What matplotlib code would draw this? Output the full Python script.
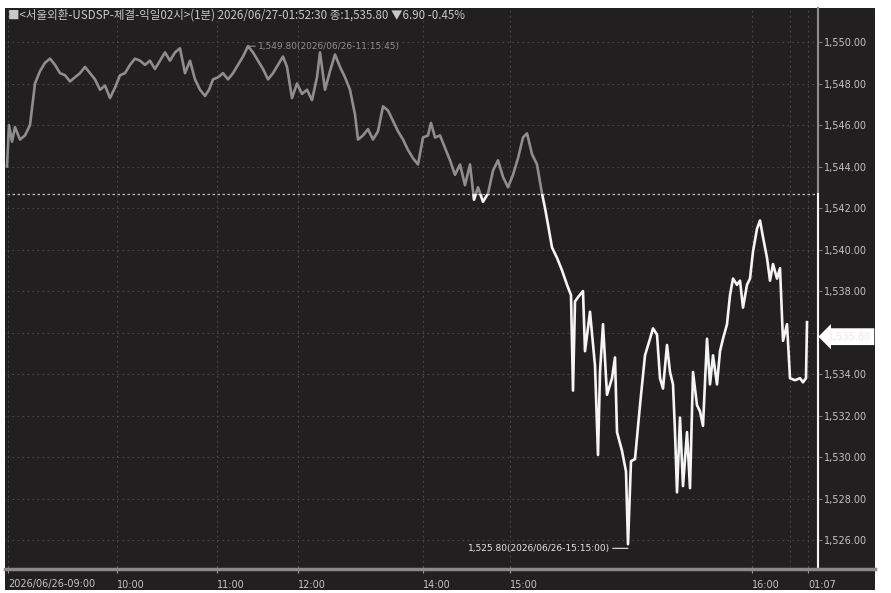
import matplotlib.pyplot as plt
import matplotlib.transforms as mtransforms
from matplotlib.patches import Rectangle
from matplotlib.lines import Line2D
from matplotlib.ticker import FuncFormatter

# 1분봉 (bar 번호, 가격)
bar_no = [-1, 1, 4, 7, 12, 17, 22, 27, 32, 37, 42, 47, 52, 57, 62, 67, 72, 77, 82, 87,
          92, 97, 102, 107, 112, 117, 122, 127, 132, 137, 142, 147, 152, 157, 162, 167, 172, 177, 182, 187,
          192, 197, 201, 205, 210, 215, 220, 225, 230, 235, 240, 245, 250, 255, 260, 265, 270, 275, 279, 284,
          289, 294, 299, 304, 309, 312, 317, 322, 327, 332, 337, 342, 347, 350, 355, 360, 365, 370, 375, 380,
          385, 390, 395, 400, 405, 410, 415, 420, 423, 427, 432, 437, 442, 447, 452, 457, 462, 466, 470, 475,
          480, 485, 490, 495, 500, 505, 510, 515, 519, 524, 529, 534, 537, 540, 544, 549, 554, 559, 563, 565,
          567, 570, 575, 577, 582, 587, 590, 592, 595, 599, 604, 607, 609, 614, 618, 620, 623, 627, 632, 637,
          642, 645, 649, 652, 655, 659, 662, 665, 667, 669, 672, 675, 679, 682, 685, 689, 692, 695, 699, 702,
          705, 709, 712, 715, 719, 722, 725, 729, 732, 735, 739, 742, 745, 749, 752, 755, 759, 762, 765, 769,
          772, 775, 779, 782, 787, 792, 795, 798, 799]
price = [1544.0, 1546.0, 1545.2, 1545.9, 1545.3, 1545.5, 1546.0, 1548.0, 1548.6, 1549.0, 1549.2, 1548.9, 1548.5,
         1548.4, 1548.1, 1548.3, 1548.5, 1548.8, 1548.5, 1548.2,
         1547.7, 1547.9, 1547.3, 1547.8, 1548.4, 1548.5, 1548.9, 1549.2, 1549.1, 1548.9, 1549.1, 1548.7, 1549.1,
         1549.5, 1549.1, 1549.5, 1549.7, 1548.5, 1549.1, 1548.2,
         1547.7, 1547.4, 1547.7, 1548.2, 1548.3, 1548.5, 1548.2, 1548.5, 1548.9, 1549.3, 1549.8, 1549.5, 1549.1,
         1548.7, 1548.2, 1548.5, 1548.9, 1549.3, 1548.8, 1547.3,
         1548.0, 1547.5, 1547.7, 1547.2, 1548.3, 1549.5, 1547.7, 1548.6, 1549.4, 1548.8, 1548.3, 1547.7, 1546.5,
         1545.3, 1545.5, 1545.8, 1545.3, 1545.7, 1546.9, 1546.7,
         1546.2, 1545.7, 1545.3, 1544.8, 1544.4, 1544.1, 1545.4, 1545.5, 1546.1, 1545.4, 1545.5, 1544.9, 1544.3,
         1543.6, 1544.1, 1543.1, 1544.1, 1542.4, 1543.0, 1542.3,
         1542.7, 1543.8, 1544.3, 1543.5, 1543.0, 1543.6, 1544.4, 1545.4, 1545.6, 1544.6, 1544.1, 1542.7, 1542.0,
         1541.2, 1540.1, 1539.6, 1539.0, 1538.3, 1537.8, 1533.2,
         1537.5, 1537.7, 1538.0, 1535.1, 1537.0, 1534.4, 1530.1, 1534.1, 1536.4, 1533.0, 1533.8, 1534.8, 1531.2,
         1530.3, 1529.3, 1525.8, 1529.8, 1529.9, 1532.5, 1534.9,
         1535.7, 1536.2, 1535.9, 1533.8, 1533.3, 1535.4, 1534.1, 1533.5, 1531.2, 1528.3, 1531.9, 1528.6, 1531.2,
         1528.5, 1534.1, 1532.5, 1532.2, 1531.5, 1535.7, 1533.5,
         1534.9, 1533.5, 1535.1, 1535.7, 1536.4, 1537.8, 1538.6, 1538.3, 1538.5, 1537.2, 1538.3, 1538.6, 1539.9,
         1541.0, 1541.4, 1540.6, 1539.6, 1538.5, 1539.3, 1538.6,
         1539.1, 1535.6, 1536.4, 1533.8, 1533.7, 1533.8, 1533.6, 1533.8, 1536.5]

prev_close = 1542.70
last_price = 1535.80
tick_bars = [0, 109, 209, 290, 415, 502, 744, 800]
tick_labels = ['2026/06/26-09:00', '10:00', '11:00', '12:00', '14:00', '15:00', '16:00', '01:07']
extra_grid = [782]
title = '■<서울외환-USDSP-체결-익일02시>(1분) 2026/06/27-01:52:30 종:1,535.80 ▼6.90 -0.45%'

W, H = 891, 593
fig = plt.figure(figsize=(W / 100, H / 100), dpi=100, facecolor='white')

# 어두운 차트 배경
fig.patches.append(Rectangle((5 / W, 3 / H), 870 / W, 582 / H, transform=fig.transFigure,
                             facecolor='#221f20', edgecolor='none', zorder=-5))
fig.add_artist(Line2D([5 / W, 875 / W], [1 - 569 / H, 1 - 569 / H], color='#8a8a8a', lw=2.5))

ax = fig.add_axes([7 / W, 1 - 567 / H, 811 / W, 559 / H])
ax.set_facecolor('none')
ax.set_xlim(-1, 810)
ax.set_ylim(1524.70, 1551.64)

# 격자
for v in range(1526, 1551, 2):
    ax.axhline(v, color='#4a4849', lw=0.8, ls=(0, (1.5, 3)), zorder=1)
for b in tick_bars + extra_grid:
    ax.axvline(b, color='#4a4849', lw=0.8, ls=(0, (1.5, 3)), zorder=1)
ax.axhline(prev_close, color='#bdbdbd', lw=0.9, ls=(0, (2, 2)), zorder=2)

# 전일종가 위 회색, 아래 흰색
up, = ax.plot(bar_no, price, color='#8e8e8e', lw=1.9, zorder=3)
dn, = ax.plot(bar_no, price, color='#f4f4f4', lw=1.9, zorder=3)
up.set_clip_path(Rectangle((-10, prev_close), 900, 50, transform=ax.transData))
dn.set_clip_path(Rectangle((-10, 1500), 900, prev_close - 1500, transform=ax.transData))

# 최고/최저 표시
i_hi = price.index(max(price))
i_lo = price.index(min(price))
ax.annotate(f'{max(price):,.2f}(2026/06/26-11:15:45)', xy=(bar_no[i_hi], max(price)),
            xytext=(10, 0), textcoords='offset pixels', ha='left', va='center',
            fontsize=6.5, color='#8e8e8e',
            arrowprops=dict(arrowstyle='-', color='#8e8e8e', lw=0.8, shrinkA=0, shrinkB=0))
ax.annotate(f'{min(price):,.2f}(2026/06/26-15:15:00)', xy=(bar_no[i_lo], min(price) - 0.2),
            xytext=(-18, 0), textcoords='offset pixels', ha='right', va='center',
            fontsize=6.5, color='#e6e6e6',
            arrowprops=dict(arrowstyle='-', color='#e6e6e6', lw=0.8, shrinkA=0, shrinkB=0))

# 오른쪽 축
for s in ['top', 'left', 'bottom']:
    ax.spines[s].set_visible(False)
ax.spines['right'].set_color('#8e8e8e')
ax.spines['right'].set_linewidth(1.5)
ax.plot([1, 1], [0, (prev_close - 1524.70) / (1551.64 - 1524.70)], transform=ax.transAxes,
        color='#f4f4f4', lw=1.5, clip_on=False, zorder=4)
ax.yaxis.tick_right()
ax.yaxis.set_major_formatter(FuncFormatter(lambda v, p: f'{v:,.2f}'))
ax.tick_params(axis='y', colors='#7a7a7a', labelcolor='#c4c4c4', labelsize=7, length=3, width=0.8, pad=1)
ax.set_yticks([v for v in range(1526, 1551, 2) if v != 1536])

ax.set_xticks(tick_bars)
ax.set_xticklabels(tick_labels, ha='left')
ax.tick_params(axis='x', colors='#9a9a9a', labelcolor='#c4c4c4', labelsize=7, length=4, width=0.8, pad=5)

# 현재가 표시
tr = mtransforms.blended_transform_factory(ax.transAxes, ax.transData)
ax.text(1.012, last_price, f'{last_price:,.2f}', transform=tr, ha='left', va='center', fontsize=7,
        color='#e8e8e8', bbox=dict(boxstyle='larrow,pad=0.35', facecolor='white', edgecolor='none'),
        zorder=5, clip_on=False)

fig.text(8 / W, 1 - 15 / H, title, ha='left', va='center', fontsize=8.3, color='#c8c8c8',
         family=['Noto Sans CJK KR', 'DejaVu Sans'])

fig.savefig('out.png', dpi=100, facecolor='white')
